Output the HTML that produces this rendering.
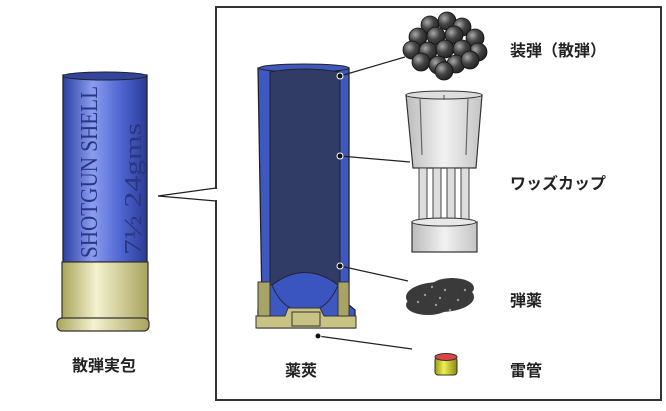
<!DOCTYPE html>
<html><head><meta charset="utf-8"><style>
body{margin:0;background:#fff;}
svg{display:block}
text{font-family:"Liberation Sans","Noto Sans CJK JP",sans-serif;font-weight:bold;font-size:16px;fill:#222}
</style></head><body>
<svg width="666" height="411" viewBox="0 0 666 411" xmlns="http://www.w3.org/2000/svg">
<defs>
<linearGradient id="blue" x1="0" x2="1"><stop offset="0" stop-color="#2d3fa0"/><stop offset="0.35" stop-color="#8a9df0"/><stop offset="0.7" stop-color="#4d63d0"/><stop offset="1" stop-color="#2b3b96"/></linearGradient>
<linearGradient id="brass" x1="0" x2="1"><stop offset="0" stop-color="#a9a45a"/><stop offset="0.4" stop-color="#f4f2d0"/><stop offset="1" stop-color="#a8a35c"/></linearGradient>
<linearGradient id="gray" x1="0" x2="1"><stop offset="0" stop-color="#bbb"/><stop offset="0.5" stop-color="#f2f2f2"/><stop offset="1" stop-color="#c4c4c4"/></linearGradient>
<radialGradient id="ball" cx="0.35" cy="0.35" r="0.7"><stop offset="0" stop-color="#aaa"/><stop offset="0.5" stop-color="#444"/><stop offset="1" stop-color="#222"/></radialGradient>
<linearGradient id="yel" x1="0" x2="1"><stop offset="0" stop-color="#9a9a10"/><stop offset="0.4" stop-color="#eeee55"/><stop offset="1" stop-color="#8a8a10"/></linearGradient>
</defs>
<path d="M216 188 L158 196 L216 201" fill="none" stroke="#222" stroke-width="1.3"/>
<rect x="216" y="7" width="445" height="393" fill="none" stroke="#333" stroke-width="2"/>
<rect x="214" y="189" width="4" height="11" fill="#fff"/>
<!-- shell -->
<rect x="63" y="75" width="84" height="187" fill="url(#blue)" stroke="#222" stroke-width="1.3"/>
<ellipse cx="105" cy="76" rx="42" ry="4" fill="#33449e" stroke="#222"/>
<rect x="62" y="262" width="86" height="58" fill="url(#brass)" stroke="#333" stroke-width="1.2"/>
<rect x="57" y="318" width="92" height="13" rx="5" fill="url(#brass)" stroke="#333" stroke-width="1.2"/>
<text transform="translate(97,258) rotate(-90)" textLength="172" lengthAdjust="spacingAndGlyphs" style="font-family:'Liberation Serif',serif;font-weight:normal;font-size:24px;fill:#2a3680">SHOTGUN SHELL</text>
<text transform="translate(141,255) rotate(-90)" textLength="132" lengthAdjust="spacingAndGlyphs" style="font-family:'Liberation Serif',serif;font-weight:normal;font-size:24px;fill:#2a3680">7½  24gms</text>
<text x="72" y="371">散弾実包</text>
<!-- case cutaway -->
<path d="M258 68 L349 68 L349 305 L355 310 L355 328 L258 328 L258 310 L262 305 Z" fill="#3e58c2" stroke="#222" stroke-width="1.3"/>
<ellipse cx="304" cy="68" rx="45" ry="4" fill="#3e58c2" stroke="#222"/>
<path d="M270 72 Q304 66 340 72 L340 285 L270 285 Z" fill="#313c66" stroke="#222"/>
<path d="M272 285 Q305 260 338 285 Q330 305 315 310 L295 310 Q280 305 272 285Z" fill="#3b55c0" stroke="#223"/>
<path d="M258 282 L270 282 L270 328 L258 328Z M338 282 L349 282 L349 328 L338 328Z" fill="#a8a466" stroke="#333"/>
<path d="M256 316 L285 316 L288 308 L320 308 L324 316 L356 316 L356 328 L256 328Z" fill="#c8c385" stroke="#333"/>
<rect x="292" y="312" width="28" height="14" fill="#c8c385" stroke="#333"/>
<text x="285" y="376">薬莢</text>
<g stroke="#222" stroke-width="1.2">
<line x1="340" y1="76" x2="405" y2="57"/><line x1="340" y1="156" x2="410" y2="162"/>
<line x1="340" y1="266" x2="408" y2="281"/><line x1="318" y1="336" x2="412" y2="349"/>
</g>
<g fill="#111" stroke="#fff" stroke-width="1"><circle cx="340" cy="76" r="3"/><circle cx="340" cy="156" r="3"/><circle cx="340" cy="266" r="3"/><circle cx="318" cy="336" r="3"/></g>
<!-- shot -->
<g fill="url(#ball)" stroke="#111" stroke-width="0.8">
<circle cx="430" cy="25" r="9"/><circle cx="447" cy="21" r="9"/><circle cx="462" cy="27" r="9"/><circle cx="418" cy="37" r="9"/><circle cx="475" cy="38" r="9"/>
<circle cx="436" cy="36" r="9"/><circle cx="454" cy="35" r="9"/><circle cx="412" cy="50" r="9"/><circle cx="478" cy="52" r="9"/>
<circle cx="428" cy="51" r="9"/><circle cx="445" cy="49" r="9"/><circle cx="462" cy="49" r="9"/>
<circle cx="421" cy="62" r="9"/><circle cx="438" cy="65" r="9"/><circle cx="456" cy="64" r="9"/><circle cx="470" cy="60" r="9"/><circle cx="444" cy="71" r="9"/>
</g>
<text x="510" y="56">装弾（散弾）</text>
<!-- wad cup -->
<path d="M406 95 L482 95 L476 168 L413 168 Z" fill="url(#gray)" stroke="#333" stroke-width="1.2"/>
<ellipse cx="444" cy="95" rx="38" ry="4" fill="#ddd" stroke="#333"/>
<g stroke="#666" stroke-width="1.2"><line x1="420" y1="98" x2="422" y2="155"/><line x1="468" y1="98" x2="466" y2="155"/><line x1="444" y1="95" x2="444" y2="100"/></g>
<g fill="#ddd" stroke="#444"><rect x="419" y="168" width="8" height="54"/><rect x="433" y="168" width="8" height="54"/><rect x="447" y="168" width="8" height="54"/><rect x="461" y="168" width="8" height="54"/></g>
<rect x="412" y="222" width="65" height="30" fill="url(#gray)" stroke="#333" stroke-width="1.2"/>
<ellipse cx="444" cy="222" rx="32" ry="4" fill="#e8e8e8" stroke="#333"/>
<text x="510" y="189">ワッズカップ</text>
<!-- powder -->
<g fill="#3a3a3a"><ellipse cx="440" cy="297" rx="34" ry="15"/><ellipse cx="452" cy="288" rx="22" ry="10"/><ellipse cx="428" cy="305" rx="22" ry="10"/></g>
<g fill="#999"><circle cx="425" cy="295" r="1.2"/><circle cx="445" cy="290" r="1.2"/><circle cx="458" cy="300" r="1.2"/><circle cx="436" cy="305" r="1.2"/><circle cx="450" cy="310" r="1.2"/><circle cx="418" cy="302" r="1.2"/><circle cx="432" cy="287" r="1.2"/><circle cx="465" cy="290" r="1.2"/><circle cx="440" cy="298" r="1.2"/></g>
<text x="510" y="306">弾薬</text>
<!-- primer -->
<rect x="435" y="357" width="22" height="18" rx="3" fill="url(#yel)" stroke="#333"/>
<ellipse cx="446" cy="357" rx="11" ry="3.5" fill="#d44" stroke="#333"/>
<text x="510" y="376">雷管</text>
</svg>
</body></html>
